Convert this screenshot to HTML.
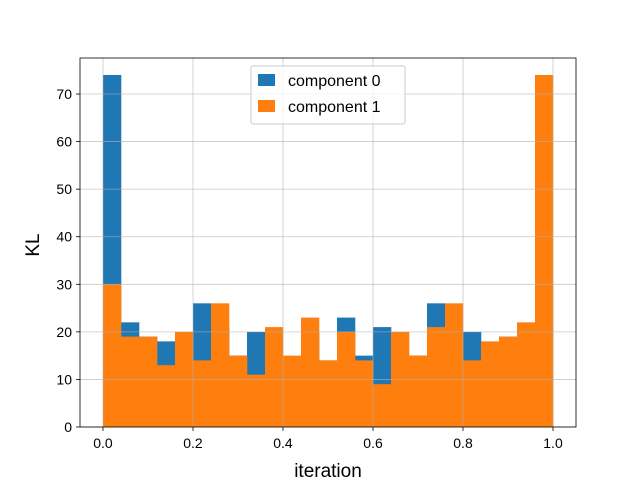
<!DOCTYPE html>
<html><head><meta charset="utf-8"><style>
body{margin:0;background:#fff}
text{font-family:"Liberation Sans","DejaVu Sans",sans-serif;fill:#000}
</style></head><body>
<svg id="chart" width="640" height="480" xmlns="http://www.w3.org/2000/svg">
<rect width="640" height="480" fill="#fff"/>
<g id="bars0"></g>
<g id="bars1"></g>
<g id="grid"></g>
<rect x="80" y="58" width="496" height="369" fill="none" stroke="#000" stroke-width="0.8"/>
<g id="xticks"></g>
<g id="yticks"></g>
<text x="328" y="477" font-size="19" text-anchor="middle">iteration</text>
<text x="0" y="0" font-size="19" text-anchor="middle" transform="translate(39,245) rotate(-90)">KL</text>
<g>
<rect x="251" y="66" width="154" height="58" fill="#fff" fill-opacity="0.8" stroke="#ccc" stroke-width="1" rx="2"/>
<g>
<rect x="258" y="74" width="17" height="12" fill="#1f77b4"/>
<text x="288" y="86" font-size="16">component 0</text></g>
<g>
<rect x="258" y="100" width="17" height="12" fill="#ff7f0e"/>
<text x="288" y="112" font-size="16">component 1</text></g>
</g>
</svg>
<script>
const binEdgesStart = 0, binCount = 25, binEnd = 1;
const comp0 = [74,22,19,18,14,26,21,15,20,9,14,20,14,23,15,21,11,15,26,14,20,13,19,19,30];
const comp1 = [30,19,19,13,20,14,26,15,11,21,15,23,14,20,14,9,20,15,21,26,14,18,19,22,74];
const xTicks = [0.0,0.2,0.4,0.6,0.8,1.0];
const yTicks = [0,10,20,30,40,50,60,70];
const NS="http://www.w3.org/2000/svg";
const xmin=-0.0511,xmax=1.0511,ymin=0,ymax=77.57;
const L=80,R=576,T=58,B=427;
const X=v=>L+(v-xmin)/(xmax-xmin)*(R-L);
const Y=v=>B-(v-ymin)/(ymax-ymin)*(B-T);
function mk(tag,attrs,parent){const e=document.createElementNS(NS,tag);for(const k in attrs)e.setAttribute(k,attrs[k]);parent.appendChild(e);return e;}
const w=(binEnd-binEdgesStart)/binCount;
function drawBars(data,g,color,name){
 data.forEach((v,i)=>{
  const x0=X(binEdgesStart+i*w),x1=X(binEdgesStart+(i+1)*w);
  const r=mk('rect',{x:x0,y:Y(v),width:x1-x0+0.3,height:Y(0)-Y(v),fill:color},g);
  
  
 });
}
drawBars(comp0,document.getElementById('bars0'),'#1f77b4','component-0');
drawBars(comp1,document.getElementById('bars1'),'#ff7f0e','component-1');
const grid=document.getElementById('grid'),xt=document.getElementById('xticks'),yt=document.getElementById('yticks');
xTicks.forEach(t=>{
 const x=X(t);
 const gl=mk('line',{x1:x,x2:x,y1:T,y2:B,stroke:'#b0b0b0','stroke-width':0.8,'stroke-opacity':0.7},grid);
 
 
 mk('line',{x1:x,x2:x,y1:B,y2:B+4,stroke:'#000','stroke-width':0.8},xt);
 const tx=mk('text',{x:x,y:B+21,'font-size':14,'text-anchor':'middle'},xt);
 tx.textContent=t.toFixed(1);
 
 
});
yTicks.forEach(t=>{
 const y=Y(t);
 const gl=mk('line',{x1:L,x2:R,y1:y,y2:y,stroke:'#b0b0b0','stroke-width':0.8,'stroke-opacity':0.7},grid);
 
 
 mk('line',{x1:L-4,x2:L,y1:y,y2:y,stroke:'#000','stroke-width':0.8},yt);
 const tx=mk('text',{x:L-8,y:y+5,'font-size':14,'text-anchor':'end'},yt);
 tx.textContent=t;
 
 
});
</script>
</body></html>
